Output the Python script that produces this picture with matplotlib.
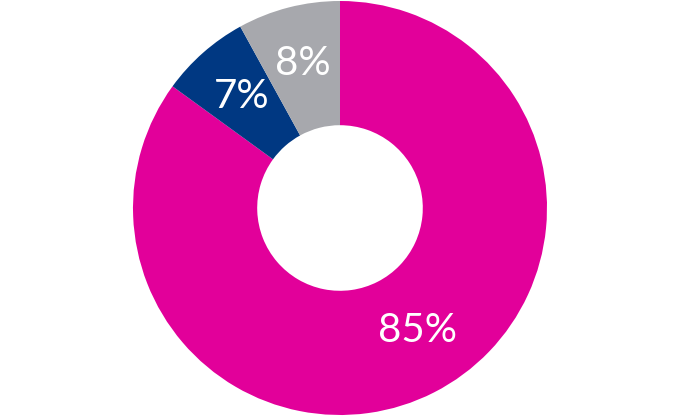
import matplotlib
matplotlib.use("Agg")
import matplotlib.pyplot as plt

labels = ["Magenta", "Navy", "Grey"]
values = [85, 7, 8]
colors = ["#E2009A", "#003882", "#A7A8AD"]

fig = plt.figure(figsize=(6.8, 4.16), dpi=100)
ax = fig.add_axes([0, 0, 1, 1])

wedges, texts, autotexts = ax.pie(
    values, colors=colors, startangle=90, counterclock=False,
    center=(340, 208), radius=207,
    wedgeprops=dict(width=207 * 0.6, edgecolor="none"),
    autopct=lambda p: f"{p:.0f}%", pctdistance=0.72,
    textprops=dict(color="white", fontsize=29, family="Lato", fontweight="normal"),
)
autotexts[0].set_position((418, 86))
ax.set_xlim(0, 680)
ax.set_ylim(0, 416)
ax.set_aspect("equal")
ax.axis("off")

fig.savefig("out.png", dpi=100)
